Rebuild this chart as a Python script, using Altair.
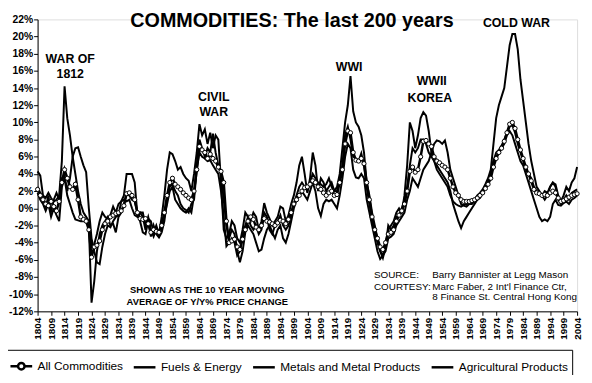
import altair as alt
import pandas as pd

years = list(range(1804, 2005))
series_names = ["All Commodities", "Fuels & Energy", "Metals and Metal Products", "Agricultural Products"]

all_commodities = [
    2.2, 1.5, 1.0, 0.5, 0.3, 0.8, 0.2, -0.3, 0.8, 3.0,
    4.5, 3.5, 2.5, 2.2, 2.8, 1.0, -1.0, -1.3, -1.5, -2.5,
    -5.7, -4.5, -4.3, -3.8, -2.5, -1.8, -1.5, -1.0, -0.8, -0.6,
    -0.5, -0.3, 0.3, 1.7, 1.8, 1.5, 1.0, -0.5, -1.2, -1.3,
    -1.2, -1.8, -2.8, -2.5, -2.7, -2.8, -2.0, -0.5, 1.5, 3.0,
    3.5, 2.8, 2.5, 2.2, 1.8, 1.5, 1.2, 1.0, 2.0, 4.5,
    7.2, 6.8, 6.5, 5.8, 6.3, 5.8, 5.5, 4.8, 4.3, 3.0,
    -1.5, -4.0, -3.8, -3.6, -4.5, -4.8, -3.6, -2.5, -1.5, -1.0,
    -1.3, -2.2, -2.5, -2.0, -1.2, -1.5, -1.6, -1.8, -2.0, -1.7,
    -1.4, -1.5, -1.8, -1.3, -0.5, 0.5, 1.0, 1.5, 2.0, 2.4,
    2.5, 2.8, 3.2, 3.0, 2.5, 2.2, 1.8, 1.5, 1.8, 2.0,
    1.5, 1.6, 3.0, 4.5, 7.5, 9.0, 8.8, 6.5, 5.6, 5.5,
    5.8, 5.2, 3.0, 1.0, -1.0, -2.5, -3.5, -4.5, -4.8, -4.0,
    -3.0, -2.8, -2.5, -1.5, -0.8, -0.3, 0.5, 2.0, 4.3, 4.8,
    4.2, 4.5, 6.0, 7.8, 7.9, 7.5, 7.2, 6.0, 5.5, 5.3,
    5.0, 4.8, 4.5, 3.5, 2.5, 1.8, 1.5, 1.0, 0.8, 0.8,
    0.8, 0.9, 1.0, 1.2, 1.5, 1.8, 2.3, 2.8, 3.5, 4.8,
    5.8, 6.5, 7.0, 7.8, 8.8, 9.8, 10.0, 9.3, 8.0, 6.8,
    5.8, 4.8, 4.0, 3.2, 2.2, 1.8, 1.7, 1.5, 1.6, 1.5,
    1.8, 2.0, 1.8, 1.2, 0.8, 0.9, 1.1, 1.3, 1.5, 1.6,
    1.7,
]

fuels_energy = [
    4.3, 3.8, 1.5, 1.2, 1.8, 1.2, 0.8, 1.0, 1.5, 5.5,
    14.2, 10.5, 8.5, 6.0, 4.0, 2.0, 0.5, -0.5, -1.0, -1.5,
    -4.5, -4.2, -3.0, -1.5, -0.5, -1.0, -1.2, -0.8, 0.2, -0.5,
    0.5, 0.8, 1.5, 4.0, 4.0, 4.0, 3.0, -0.8, -0.5, -1.0,
    -2.5, -1.2, -1.5, -2.8, -2.0, -3.0, -1.0, 1.5, 4.5, 6.5,
    6.3, 5.5, 4.5, 4.8, 4.0, 3.5, 3.2, 2.0, 4.0, 6.5,
    9.8, 8.5, 9.2, 7.5, 8.8, 7.0, 8.5, 8.0, 3.0, -2.5,
    -3.5, -3.0, -1.5, -2.0, -3.5, -4.0, -2.5, -0.5, -1.0, -1.5,
    -0.5, -1.0, -2.5, -1.5, 0.6, -0.5, -1.2, -2.0, -1.5, -1.0,
    0.2, 0.0, -1.5, -0.8, 0.5, 1.5, 3.0, 5.0, 6.0, 4.0,
    1.8, 3.5, 6.5, 5.0, 2.0, 3.5, 3.0, 2.0, 2.5, 3.0,
    2.0, 2.5, 4.0, 7.0, 10.0, 12.0, 15.4, 11.3, 10.0, 9.5,
    8.5, 6.5, 3.0, 1.5, -0.5, -2.0, -3.5, -5.0, -5.5, -4.0,
    -2.5, -2.0, -1.5, -0.5, 0.0, -0.5, 1.5, 5.0, 10.0, 9.0,
    7.0, 8.5, 10.5, 11.2, 10.8, 9.0, 6.5, 5.5, 4.5, 4.0,
    3.5, 3.0, 2.5, 1.5, 0.8, 0.5, 0.3, 0.2, 0.4, 0.5,
    0.6, 0.8, 1.0, 1.5, 1.8, 2.2, 2.8, 3.5, 4.5, 7.5,
    10.5, 12.0, 13.0, 14.0, 16.5, 19.0, 20.3, 20.3, 18.5, 15.0,
    12.5, 10.0, 7.5, 5.5, 4.0, 2.5, 2.0, 1.5, 1.0, 1.5,
    2.5, 3.0, 2.8, 1.5, 0.8, 1.5, 2.5, 2.0, 3.0, 3.5,
    4.8,
]

metals = [
    2.5, 1.8, 1.5, 0.0, 1.5, -0.5, 1.0, 1.8, 1.0, 3.5,
    3.8, 2.0, 3.5, 6.0, 7.0, 7.1, 6.0, 5.0, 4.2, 0.0,
    -3.5, -5.0, -6.3, -6.5, -4.5, -3.0, -2.0, -2.2, -1.5, -1.0,
    -0.8, 0.8, 1.0, 0.8, 1.0, 0.0, -0.8, -1.0, -0.5, -0.5,
    -2.0, -1.0, -2.5, -3.3, -2.5, -3.2, -2.5, -1.0, 0.5, 2.0,
    2.5, 1.0, 0.5, 0.0, -0.3, -0.5, 0.0, -0.5, 1.5, 5.0,
    8.0, 7.0, 6.0, 7.0, 6.5, 8.7, 6.5, 5.0, 4.0, 1.0,
    -2.0, -3.5, -2.5, -3.0, -5.0, -6.3, -5.0, -2.8, -2.0, -2.5,
    -3.0, -4.0, -5.0, -4.8, -3.5, -2.5, -2.0, -2.8, -3.5, -2.5,
    -2.0, -3.5, -4.0, -3.0, -1.5, 0.0, 1.0, 1.5, 2.0, 1.5,
    1.0, 2.0, 3.0, 2.0, 0.0, -0.9, 0.5, 1.0, 0.8, 1.0,
    0.5, 0.0, 1.5, 3.5, 6.0, 7.5, 7.0, 4.5, 3.6, 3.5,
    4.0, 3.5, 1.0, -0.5, -2.0, -3.5, -5.0, -5.9, -5.5, -5.0,
    -3.5, -3.3, -3.0, -2.0, -1.5, -1.0, -0.5, 1.0, 2.0, 3.5,
    3.0, 2.5, 3.5, 4.5, 5.0, 5.5, 6.5, 7.5, 7.9, 7.8,
    7.5, 7.9, 6.5, 4.5, 3.5, 2.5, 1.5, 0.5, 0.3, 0.2,
    0.5, 0.5, 0.8, 1.0, 1.5, 2.0, 2.5, 3.0, 4.0, 5.5,
    6.5, 6.8, 7.3, 8.0, 8.8, 9.5, 9.7, 8.8, 7.5, 6.5,
    5.5, 4.5, 4.0, 3.5, 2.5, 2.0, 1.8, 1.5, 2.0, 1.8,
    2.5, 3.0, 2.5, 1.0, 0.5, 1.0, 1.5, 1.0, 1.8, 2.0,
    2.2,
]

agricultural = [
    1.8, 1.0, 0.5, -0.3, 0.5, -1.0, 0.0, -0.8, -1.5, 2.5,
    3.5, 1.5, 0.5, -0.5, -1.3, -1.4, -1.5, -1.5, -1.6, -2.0,
    -11.0, -8.5, -5.0, -3.0, -2.0, -1.5, -1.0, -2.0, -1.8, -2.8,
    -1.0, -0.5, 0.5, 1.8, 1.5, 1.0, 0.8, -0.5, -1.5, -2.8,
    -3.0, -1.5, -3.3, -2.0, -3.0, -3.4, -2.8, -1.5, 1.0, 2.5,
    2.8, 2.0, 1.5, 0.5, 0.0, -0.2, -0.5, 0.5, 1.0, 4.5,
    6.5, 6.0, 5.8, 5.5, 5.6, 5.0, 4.5, 4.0, 2.0, -1.0,
    -4.4, -4.0, -3.5, -4.0, -5.5, -5.0, -3.0, -2.0, -1.0, -2.0,
    -2.5, -2.0, -3.0, -2.5, -0.5, -1.0, -2.5, -3.0, -2.0, -1.5,
    -0.8, -2.0, -2.5, -2.0, -1.0, 0.5, 1.5, 2.5, 3.0, 2.5,
    2.0, 3.0, 4.0, 3.5, 3.0, 2.8, 2.5, 2.8, 3.5, 2.5,
    2.0, 2.0, 3.5, 5.0, 8.5, 9.5, 8.0, 6.0, 5.8, 5.5,
    6.4, 5.0, 2.5, 0.5, -1.3, -2.8, -4.0, -5.0, -5.8, -4.5,
    -2.0, -2.5, -2.0, -1.0, -0.9, 0.0, 1.0, 2.5, 5.0, 7.0,
    6.5, 7.0, 8.0, 8.0, 7.5, 6.5, 6.0, 5.5, 5.0, 4.5,
    4.0, 3.5, 3.0, 2.0, 0.5, -0.5, -1.5, -2.3, -1.5, -1.0,
    -0.5, 0.0, 0.5, 1.0, 1.2, 1.8, 2.5, 3.0, 4.0, 5.5,
    6.0, 6.5, 7.0, 7.5, 8.5, 9.0, 8.5, 7.5, 6.5, 5.5,
    5.0, 4.0, 3.0, 2.0, 1.0, 0.0, -1.0, -1.5, -1.3, -1.5,
    -1.0, 0.5, 1.0, 0.4, 0.3, 0.6, 0.8, 0.5, 1.0, 1.2,
    1.5,
]

x_ticks = list(range(1804, 2005, 5))
y_ticks = list(range(-12, 23, 2))

title_text = ["COMMODITIES: The last 200 years"]
title_year = [1898.3]
title_value = [21.8]

ann_text = ["WAR OF", "1812", "CIVIL", "WAR", "WWI", "WWII", "KOREA", "COLD WAR"]
ann_year = [1816.1, 1816.1, 1869.3, 1869.3, 1919.5, 1950.1, 1949.4, 1981.5]
ann_value = [17.4, 15.6, 12.9, 11.2, 16.4, 14.8, 12.8, 21.6]

note_text = ["SHOWN AS THE 10 YEAR MOVING", "AVERAGE OF Y/Y% PRICE CHANGE"]
note_year = [1866.9, 1866.9]
note_value = [-9.55, -10.9]

src_text = ["SOURCE:", "COURTESY:", "Barry Bannister at Legg Mason",
            "Marc Faber, 2 Int'l Finance Ctr,", "8 Finance St. Central Hong Kong"]
src_year = [1928.7, 1928.7, 1950.3, 1950.3, 1950.3]
src_value = [-7.83, -9.16, -7.83, -9.16, -10.39]

FONT = "Arial, Liberation Sans, sans-serif"

rows = []
for name, vals in zip(series_names, [all_commodities, fuels_energy, metals, agricultural]):
    for yr, v in zip(years, vals):
        rows.append({"year": yr, "series": name, "value": v})
df = pd.DataFrame(rows)

x_scale = alt.Scale(domain=[1804, 2004], nice=False, zero=False)
y_scale = alt.Scale(domain=[-12, 22], nice=False, zero=False)

x_enc = alt.X("year:Q", scale=x_scale, title=None,
              axis=alt.Axis(values=x_ticks, format="d", labelAngle=270, labelFont=FONT,
                            labelFontSize=10, labelFontWeight="bold", labelColor="black",
                            tickSize=4, tickColor="black", domainColor="black", labelPadding=2,
                            grid=False, labelOverlap=False, labelFlush=False))
y_enc = alt.Y("value:Q", scale=y_scale, title=None,
              axis=alt.Axis(values=y_ticks, labelExpr="datum.value + '%'", labelFont=FONT,
                            labelFontSize=10.5, labelFontWeight="bold", labelColor="black",
                            tickSize=4, tickColor="black", domainColor="black", labelPadding=1,
                            grid=False, labelOverlap=False, labelFlush=False))

def make_legend():
    return alt.Legend(
        title=None, orient="none", legendX=-33, legendY=335, direction="horizontal",
        columns=4, symbolType="stroke", symbolSize=484, symbolStrokeWidth=2.5,
        symbolStrokeColor="black", labelFont=FONT, labelFontSize=12,
        labelColor="black", labelOffset=4, columnPadding=5, strokeColor="black",
        fillColor="white", padding=4, labelLimit=300,
    )

line_color = alt.Color(
    "series:N",
    scale=alt.Scale(domain=series_names, range=["black"] * 4),
    sort=series_names,
    legend=make_legend(),
)

all_symbol = "M-1,0H-0.3M0.3,0H1M-0.3,0A0.3,0.3 0 1,0 0.3,0A0.3,0.3 0 1,0 -0.3,0"
legend_shape = alt.Shape(
    "series:N",
    scale=alt.Scale(domain=series_names, range=[all_symbol, "stroke", "stroke", "stroke"]),
    sort=series_names,
    legend=make_legend(),
)

base = alt.Chart(df)
other_lines = base.transform_filter("datum.series !== 'All Commodities'").mark_line(
    strokeWidth=2).encode(x=x_enc, y=y_enc, color=line_color)
all_line = base.transform_filter("datum.series === 'All Commodities'").mark_line(
    strokeWidth=2.5).encode(x=x_enc, y=y_enc, color=line_color)
all_pts = base.transform_filter("datum.series === 'All Commodities'").mark_circle(
    size=18, color="white", stroke="black", strokeWidth=1, opacity=1).encode(x=x_enc, y=y_enc)
legend_layer = base.transform_filter("false").mark_point(
    filled=False, strokeWidth=2.5, size=484, opacity=1).encode(
    x=x_enc, y=y_enc, shape=legend_shape, color=line_color)

title_df = pd.DataFrame({"text": title_text, "year": title_year, "value": title_value})
ann_df = pd.DataFrame({"text": ann_text, "year": ann_year, "value": ann_value})
note_df = pd.DataFrame({"text": note_text, "year": note_year, "value": note_value})
src_df = pd.DataFrame({"text": src_text, "year": src_year, "value": src_value})

title_layer = alt.Chart(title_df).mark_text(font=FONT, fontSize=20, fontWeight="bold",
                                            color="black", baseline="middle", align="center").encode(
    x=x_enc, y=y_enc, text="text:N")
ann_layer = alt.Chart(ann_df).mark_text(font=FONT, fontSize=12.5, fontWeight="bold",
                                        color="black", baseline="middle", align="center").encode(
    x=x_enc, y=y_enc, text="text:N")
note_layer = alt.Chart(note_df).mark_text(font=FONT, fontSize=9.5, fontWeight="bold",
                                          color="black", baseline="middle", align="center").encode(
    x=x_enc, y=y_enc, text="text:N")
src_layer = alt.Chart(src_df).mark_text(font=FONT, fontSize=10, color="black",
                                        baseline="middle", align="left").encode(
    x=x_enc, y=y_enc, text="text:N")

chart = alt.layer(other_lines, all_line, all_pts, legend_layer, title_layer, ann_layer,
                  note_layer, src_layer).properties(
    width=547, height=296,
    autosize=alt.AutoSizeParams(type="none"),
    padding={"left": 30, "top": 9, "right": 7, "bottom": 62},
).configure_view(stroke=None).configure(background="white")

chart.save("out.html", embed_options={"renderer": "svg", "actions": False})
